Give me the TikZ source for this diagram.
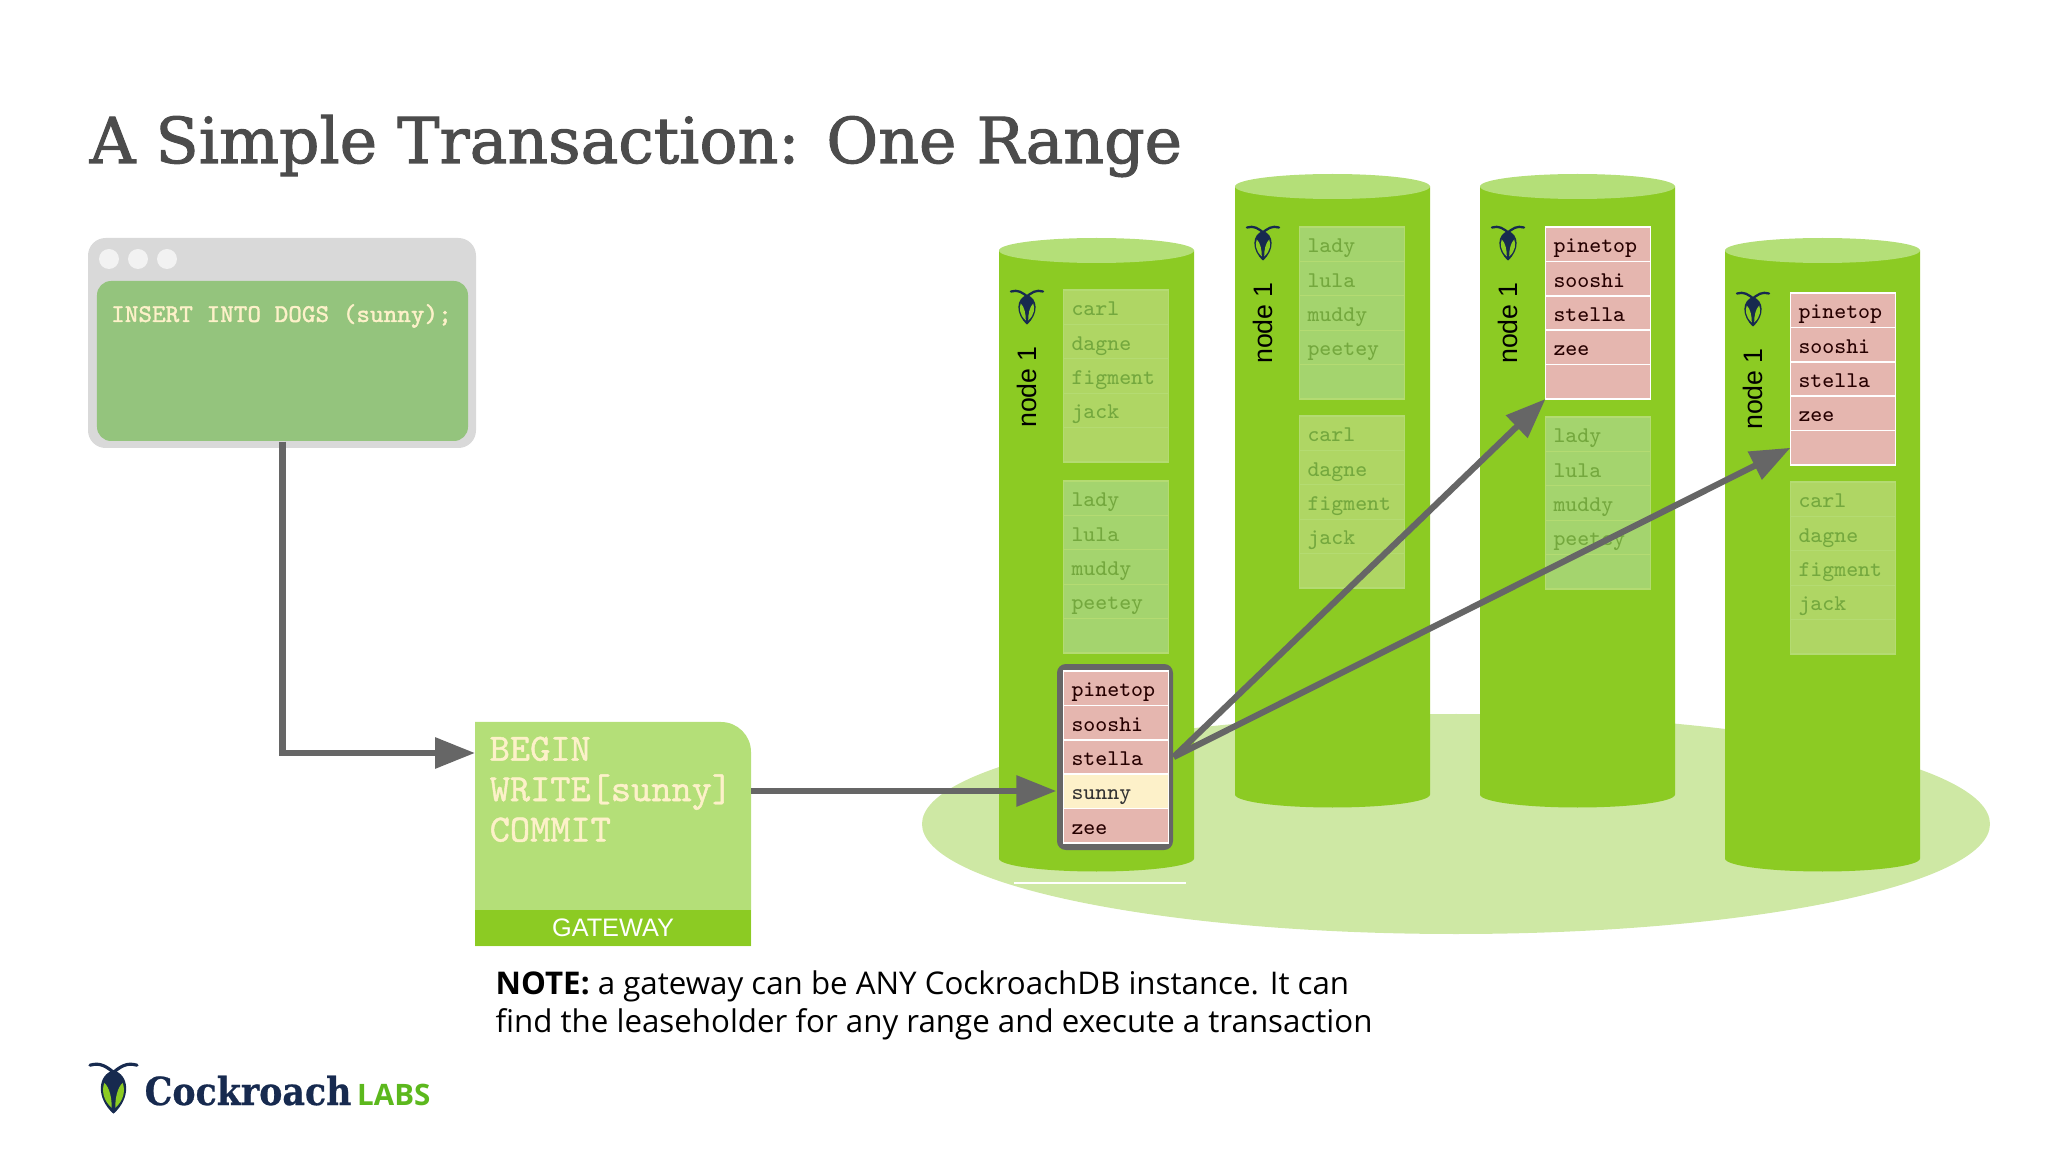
\documentclass[tikz,border=0pt]{standalone}
\usepackage{fontspec}
\setmainfont{Open Sans}
\newfontfamily\titlefont[FakeBold=1.6]{DejaVu Serif}
\newfontfamily\logofont[FakeBold=0.6]{DejaVu Serif Condensed}
\newfontfamily\labelfont{Liberation Sans}
\newfontfamily\codebold[FakeBold=1.2]{Latin Modern Mono}
\usetikzlibrary{arrows.meta,positioning,calc}
\definecolor{drumgreen}{HTML}{8CCB23}
\definecolor{drumtop}{HTML}{B4DF78}
\definecolor{basegreen}{HTML}{CEE8A4}
\definecolor{roachnavy}{HTML}{172A4F}
\definecolor{arrowgray}{HTML}{666666}
\definecolor{leasepink}{HTML}{E5B6AF}
\definecolor{writecream}{HTML}{FDF1C9}
\definecolor{fadeone}{HTML}{AFD664}
\definecolor{fadetwo}{HTML}{A4D46E}
\definecolor{fadeline}{HTML}{B4DB72}
\definecolor{fadetext}{HTML}{74A83E}
\tikzset{
  rowbox/.style={minimum width=1.05cm, minimum height=.344cm, inner ysep=0pt, inner xsep=.08cm,
    outer sep=0pt, text width=.89cm, align=left, text height=6.5pt, text depth=1.7pt,
    font=\ttfamily\fontsize{6.4}{7.5}\selectfont},
  leaserow/.style={rowbox, fill=leasepink, draw=white, line width=.5pt, text=black!85!red},
  fadedone/.style={rowbox, fill=fadeone, draw=fadeline, line width=.3pt, text=fadetext},
  fadedtwo/.style={rowbox, fill=fadetwo, draw=fadeline, line width=.3pt, text=fadetext},
  flowline/.style={draw=arrowgray, line width=.062cm, -{Triangle[length=.4cm,width=.3cm]}},
  pics/roach/.style={code={
    \draw[roachnavy, line width=#1, line cap=round] (-.16,-.015) .. controls (-.09,.005) and (-.05,-.02) .. (.02,-.08);
    \draw[roachnavy, line width=#1, line cap=round] (.16,-.015) .. controls (.09,.005) and (.05,-.02) .. (-.02,-.08);
    \fill[roachnavy] (0,-.05) .. controls (.11,-.08) and (.12,-.24) .. (0,-.345) .. controls (-.12,-.24) and (-.11,-.08) .. (0,-.05) -- cycle;
    \fill[drumgreen] (-.012,-.305) .. controls (-.075,-.25) and (-.08,-.18) .. (-.062,-.135) .. controls (-.025,-.17) and (-.012,-.24) .. cycle;
    \fill[drumgreen] (.012,-.305) .. controls (.075,-.25) and (.08,-.18) .. (.062,-.135) .. controls (.025,-.17) and (.012,-.24) .. cycle;
  }}
}
% one server: #1 left edge, #2 top centre, #3 top of its first stack
\newcommand{\serverdrum}[3]{
  \fill[drumgreen] (#1,#2) -- ++(0,-6.08) arc[start angle=180, end angle=360, x radius=.975, y radius=.13] -- ++(0,6.08) -- cycle;
  \fill[drumtop] ({#1+.975},#2) ellipse[x radius=.975, y radius=.125];
  \pic at ({#1+.28},#3) {roach=.65pt};
  \node[rotate=90, font=\labelfont\fontsize{7.6}{8}\selectfont] at ({#1+.28},{#3-.97}) {node 1};
}
% one stack of five rows: #1 name, #2 left, #3 top, #4 row style, #5 texts
\newcommand{\rangestack}[5]{
  \foreach \nm [count=\i] in {#5} {
    \node[#4] (#1-\i) at ({#2+.53},{#3-.172-.344*(\i-1)}) {\nm};
  }
}

\begin{document}
\begin{tikzpicture}
    \useasboundingbox (0,0) rectangle (20.48,-11.52);

    % Title
    \node[anchor=base west, inner sep=0pt, text=black!70, font=\titlefont\fontsize{18}{20}\selectfont] (title) at (.89,-1.63) {A Simple Transaction: One Range};

    % Client window
    \node[fill=black!15, rounded corners=5pt, minimum width=3.88cm, minimum height=2.10cm, inner sep=0pt] (window) at (2.82,-3.43) {};
    \fill[black!5] (1.09,-2.59) circle (.1) (1.38,-2.59) circle (.1) (1.67,-2.59) circle (.1);
    \node[fill={rgb,255:red,148;green,196;blue,125}, rounded corners=4pt, minimum width=3.71cm, minimum height=1.60cm, inner sep=0pt] (sqlpane) at (2.825,-3.61) {};
    \node[anchor=west, inner sep=0pt, text=writecream, font=\codebold\fontsize{7.3}{8}\selectfont] (sqltext) at (1.105,-3.16) {INSERT INTO DOGS (sunny);};

    % Gateway
    \fill[drumtop] (4.75,-7.22) -- (7.21,-7.22) arc[start angle=90, end angle=0, radius=.3] -- (7.51,-9.46) -- (4.75,-9.46) -- cycle;
    \node[anchor=north west, inner sep=0pt, text=writecream, align=left, font=\codebold\fontsize{10.95}{11.5}\selectfont] (gwtext) at (4.89,-7.36) {BEGIN\\WRITE[sunny]\\COMMIT};
    \node[fill=drumgreen, minimum width=2.76cm, minimum height=.36cm, inner sep=0pt, text=white, font=\labelfont\fontsize{7.2}{8}\selectfont] (gwband) at (6.13,-9.28) {\raisebox{-.3pt}{GATEWAY}};
    \coordinate (gwin) at (4.75,-7.53);
    \coordinate (gwout) at (7.51,-7.91);

    % Servers
    \fill[basegreen] (14.56,-8.24) ellipse[x radius=5.34, y radius=1.10];
    \serverdrum{9.99}{-2.505}{-2.90}
    \serverdrum{12.35}{-1.865}{-2.26}
    \serverdrum{14.80}{-1.865}{-2.26}
    \serverdrum{17.25}{-2.505}{-2.92}
    \draw[white, line width=.4pt] (10.14,-8.83) -- (11.86,-8.83);

    % Stacks on server 1
    \rangestack{one}{10.63}{-2.90}{fadedone}{carl,dagne,figment,jack,{}}
    \rangestack{lady}{10.63}{-4.81}{fadedtwo}{lady,lula,muddy,peetey,{}}
    \node[fill=arrowgray, rounded corners=2.5pt, minimum width=1.16cm, minimum height=1.86cm, inner sep=0pt] (leasebox) at (11.15,-7.57) {};
    \rangestack{lease}{10.63}{-6.71}{leaserow}{pinetop,sooshi,stella,sunny,zee}
    \node[rowbox, fill=writecream, draw=white, line width=.5pt, text=black!80] (lease-new) at (lease-4) {sunny};

    % Stacks on server 2
    \rangestack{ladytwo}{12.99}{-2.27}{fadedtwo}{lady,lula,muddy,peetey,{}}
    \rangestack{carltwo}{12.99}{-4.16}{fadedone}{carl,dagne,figment,jack,{}}

    % Stacks on server 3
    \rangestack{leasethree}{15.45}{-2.27}{leaserow}{pinetop,sooshi,stella,zee,{}}
    \rangestack{ladythree}{15.45}{-4.17}{fadedtwo}{lady,lula,muddy,peetey,{}}

    % Stacks on server 4
    \rangestack{leasefour}{17.90}{-2.93}{leaserow}{pinetop,sooshi,stella,zee,{}}
    \rangestack{carlfour}{17.90}{-4.82}{fadedone}{carl,dagne,figment,jack,{}}

    % Arrows
    \draw[flowline] (sqlpane.south) |- (gwin);
    \draw[flowline] (gwout) -- (gwout -| leasebox.west);
    \draw[flowline] (leasebox.east) -- (leasethree-5.south west);
    \draw[flowline] (leasebox.east) -- (leasefour-5.west);

    % Note
    \node[anchor=north west, inner sep=0pt, align=left, font=\fontsize{8.9}{10.8}\selectfont] (note) at (4.95,-9.70) {\textbf{NOTE:} a gateway can be ANY CockroachDB instance. It can\\find the leaseholder for any range and execute a transaction};

    % Logo
    \pic[scale=1.47] at (1.135,-10.63) {roach=.9pt};
    \node[anchor=base west, inner sep=0pt, text=roachnavy, font=\logofont\bfseries\fontsize{11}{14}\selectfont] (logoword) at (1.44,-11.05) {Cockroach};
    \node[anchor=base west, inner sep=0pt, text={rgb,255:red,92;green,184;blue,29}, font=\bfseries\fontsize{8.4}{10}\selectfont] (logolabs) at (3.565,-11.05) {LABS};
\end{tikzpicture}
\end{document}
